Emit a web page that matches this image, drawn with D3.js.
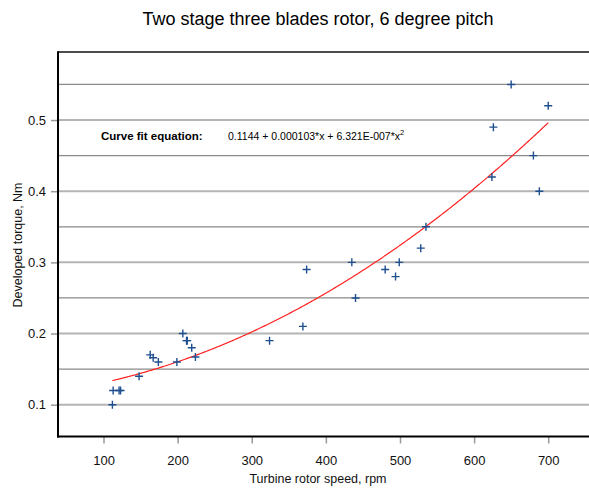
<!DOCTYPE html>
<html><head><meta charset="utf-8">
<script src="https://cdn.jsdelivr.net/npm/d3@7"></script>
<style>body{margin:0;background:#fff}svg{display:block;font-family:"Liberation Sans",Arial,sans-serif}</style>
</head><body><div id="c"></div>
<script>
const title = "Two stage three blades rotor, 6 degree pitch";
const xLabel = "Turbine rotor speed, rpm";
const yLabel = "Developed torque, Nm";
const speed  = [112, 113, 121, 123, 148, 163, 167, 174, 199, 207, 212, 213, 219, 224, 324, 369, 374, 435, 440, 480, 494, 499, 528, 535, 624, 626, 650, 680, 688, 700];
const torque = [0.10, 0.12, 0.12, 0.12, 0.14, 0.17, 0.166, 0.16, 0.16, 0.20, 0.19, 0.19, 0.18, 0.167, 0.19, 0.21, 0.29, 0.30, 0.25, 0.29, 0.28, 0.30, 0.32, 0.35, 0.42, 0.49, 0.55, 0.45, 0.40, 0.52];
const coef = [0.1144, 0.000103, 6.321e-7];
const xTicks = [100, 200, 300, 400, 500, 600, 700];
const yTicks = [0.1, 0.2, 0.3, 0.4, 0.5];
const yGrid = [0.1, 0.15, 0.2, 0.25, 0.3, 0.35, 0.4, 0.45, 0.5, 0.55];

const W = 589, H = 489;
const L = 58, R = 589, T = 52, B = 436.5;
const svg = d3.select("#c").append("svg").attr("width", W).attr("height", H);
const x = d3.scaleLinear().domain([38.6, 755]).range([L, R]);
const y = d3.scaleLinear().domain([0.0553, 0.5956]).range([B, T]);

// grid
svg.append("g").selectAll("line").data(yGrid).join("line")
  .attr("x1", L).attr("x2", R)
  .attr("y1", d => y(d)).attr("y2", d => y(d))
  .attr("stroke", (d,i) => i % 2 === 0 ? "#b4b4b4" : "#8a8a8a")
  .attr("stroke-width", (d,i) => i % 2 === 0 ? 2 : 1.2);

// y axis
const ya = svg.append("g").attr("transform", `translate(${L},0)`)
  .call(d3.axisLeft(y).tickValues(yTicks).tickFormat(d3.format(".1f")).tickSize(7).tickPadding(5));
ya.select(".domain").remove();
ya.selectAll(".tick line").attr("stroke", "#999").attr("stroke-width", 1.5);
ya.selectAll(".tick text").attr("font-size", 13).attr("fill", "#111").attr("font-family", "Liberation Sans, Arial, sans-serif");

// x axis
const xa = svg.append("g").attr("transform", `translate(0,${B})`)
  .call(d3.axisBottom(x).tickValues(xTicks).tickSize(7).tickPadding(12));
xa.select(".domain").remove();
xa.selectAll(".tick line").attr("stroke", "#999").attr("stroke-width", 1.5);
xa.selectAll(".tick text").attr("font-size", 13).attr("fill", "#111").attr("font-family", "Liberation Sans, Arial, sans-serif");

// frame
svg.append("line").attr("x1", L).attr("x2", R).attr("y1", T).attr("y2", T).attr("stroke", "#111").attr("stroke-width", 1.5);
svg.append("line").attr("x1", L).attr("x2", L).attr("y1", T - 0.75).attr("y2", B + 1).attr("stroke", "#000").attr("stroke-width", 2);
svg.append("line").attr("x1", L - 1).attr("x2", R).attr("y1", B).attr("y2", B).attr("stroke", "#000").attr("stroke-width", 2);

// curve
const cx = d3.range(112, 700.5, 2);
const line = d3.line().x(d => x(d)).y(d => y(coef[0] + coef[1]*d + coef[2]*d*d));
svg.append("path").datum(cx).attr("d", line).attr("fill", "none").attr("stroke", "#ff2020").attr("stroke-width", 1.2);

// points
const pts = speed.map((s, i) => [s, torque[i]]);
const g = svg.append("g");
g.selectAll("path").data(pts).join("path")
  .attr("d", d => `M${x(d[0])-4},${y(d[1])}h8M${x(d[0])},${y(d[1])-4}v8`)
  .attr("stroke", "#1f4f8f").attr("stroke-width", 1.4).attr("fill", "none");

// equation
const eq = svg.append("text").attr("x", 101).attr("y", 140).attr("font-size", 11.5).attr("fill", "#000");
eq.append("tspan").attr("font-weight", "bold").text("Curve fit equation:");
const eq2 = svg.append("text").attr("x", 228).attr("y", 140).attr("font-size", 10.5).attr("fill", "#000");
eq2.append("tspan").text("0.1144 + 0.000103*x + 6.321E-007*x");
eq2.append("tspan").attr("font-size", 7.5).attr("dy", -5).text("2");

// title & labels
svg.append("text").attr("x", 318).attr("y", 25).attr("text-anchor", "middle").attr("font-size", 18).attr("fill", "#000").text(title);
svg.append("text").attr("x", 318).attr("y", 483).attr("text-anchor", "middle").attr("font-size", 12.5).attr("fill", "#111").text(xLabel);
svg.append("text").attr("transform", "translate(22,245) rotate(-90)").attr("text-anchor", "middle").attr("font-size", 12.5).attr("fill", "#111").text(yLabel);
</script></body></html>
